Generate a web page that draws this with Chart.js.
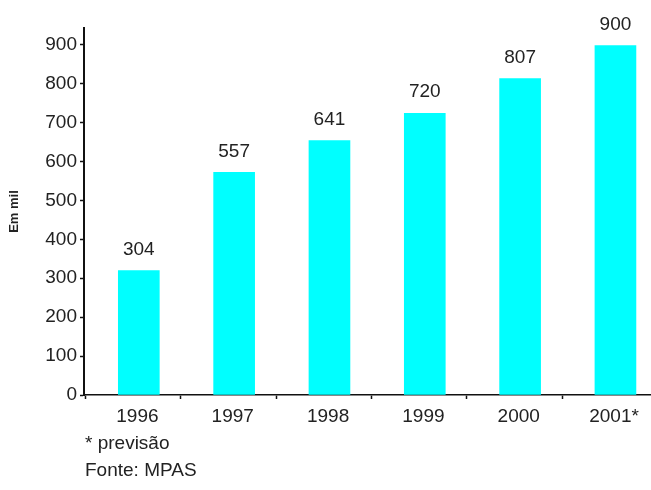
<!DOCTYPE html>
<html>
<head>
<meta charset="utf-8">
<script src="https://cdn.jsdelivr.net/npm/chart.js@4/dist/chart.umd.min.js"></script>
<style>
  html, body { margin: 0; padding: 0; background: #fff; overflow: hidden; }
  #wrap { position: relative; width: 651px; height: 490px; }
  canvas { position: absolute; left: 0; top: 0; }
  .note { position: absolute; left: 85px; font-family: "Liberation Sans", Arial, Helvetica, sans-serif; font-size: 19px; color: #222; white-space: nowrap; line-height: 1; }
</style>
</head>
<body>
<div id="wrap">
  <canvas id="c" width="651" height="490"></canvas>
  <div class="note" style="top:433px">* previsão</div>
  <div class="note" style="top:460px">Fonte: MPAS</div>
</div>
<script>
// Categories (years)
const years = ["1996", "1997", "1998", "1999", "2000", "2001*"];
// Bar heights as drawn in the picture (thousands)
const barValues = [320, 572, 654, 724, 813, 898];
// Numbers printed above the bars
const labelTexts = ["304", "557", "641", "720", "807", "900"];
// Y axis tick labels
const yTicks = [0, 100, 200, 300, 400, 500, 600, 700, 800, 900];

const FONT = '"Liberation Sans", Arial, Helvetica, sans-serif';
const TEXT = '#222';

const valueLabels = {
  id: 'valueLabels',
  afterDatasetsDraw(chart) {
    const ctx = chart.ctx;
    const meta = chart.getDatasetMeta(0);
    ctx.save();
    ctx.font = '19px ' + FONT;
    ctx.fillStyle = TEXT;
    ctx.textAlign = 'center';
    ctx.textBaseline = 'middle';
    meta.data.forEach((bar, i) => {
      ctx.fillText(labelTexts[i], bar.x, bar.y - 21);
    });
    ctx.restore();
  }
};

new Chart(document.getElementById('c'), {
  type: 'bar',
  data: {
    datasets: [{
      data: barValues.map((v, i) => ({ x: i, y: v })),
      backgroundColor: '#00ffff',
      borderWidth: 0,
      barThickness: 41
    }]
  },
  options: {
    responsive: false,
    animation: false,
    events: [],
    layout: { padding: { top: 28, bottom: 65, left: 0, right: 0 } },
    plugins: { legend: { display: false }, tooltip: { enabled: false } },
    scales: {
      x: {
        type: 'linear',
        bounds: 'data',
        offset: false,
        min: -0.575,
        max: 5.373,
        afterBuildTicks(scale) {
          scale.ticks = years.map((_, i) => ({ value: i - 0.56 }));
        },
        afterFit(scale) { scale.height = 30; },
        border: { display: true, color: '#111', width: 1.6 },
        grid: { display: true, offset: false, drawOnChartArea: false, drawTicks: true, tickLength: 4, tickColor: '#111', tickWidth: 1.5 },
        ticks: {
          autoSkip: false,
          maxRotation: 0,
          minRotation: 0,
          labelOffset: 52,
          padding: 6,
          color: TEXT,
          font: { family: FONT, size: 19 },
          callback: (v, idx) => years[idx]
        }
      },
      y: {
        type: 'linear',
        min: 0,
        max: 943,
        afterBuildTicks(scale) {
          scale.ticks = yTicks.map(v => ({ value: v }));
        },
        afterFit(scale) { scale.width = 84; },
        border: { display: true, color: '#111', width: 2 },
        grid: { display: true, drawOnChartArea: false, drawTicks: true, tickLength: 4, tickColor: '#111', tickWidth: 1.5 },
        ticks: {
          padding: 3,
          color: TEXT,
          font: { family: FONT, size: 19 },
          callback: (v) => String(v)
        },
        title: {
          display: true,
          text: 'Em mil',
          color: TEXT,
          font: { family: FONT, size: 13, weight: 'bold' },
          padding: { top: 7, bottom: 0 }
        }
      }
    }
  },
  plugins: [valueLabels]
});
</script>
</body>
</html>
